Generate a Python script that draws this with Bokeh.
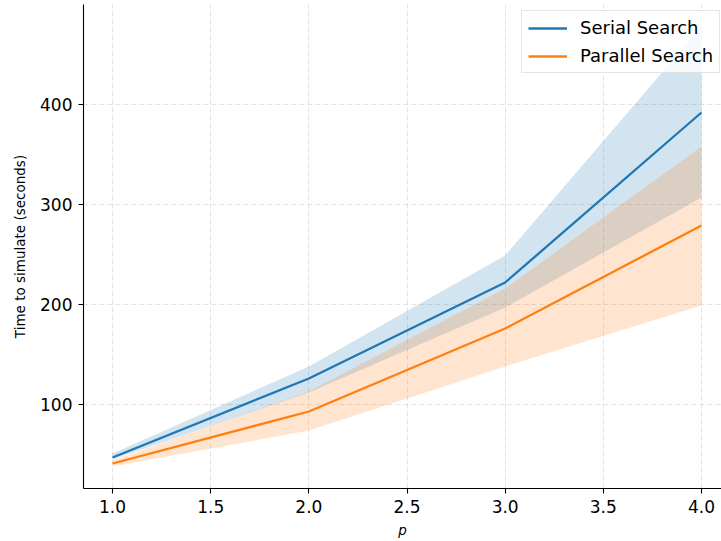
from bokeh.plotting import figure
from bokeh.models import Range1d, Legend, LegendItem, FixedTicker, NumeralTickFormatter
from bokeh.embed import file_html
from bokeh.resources import INLINE

p_vals = [1.0, 2.0, 3.0, 4.0]
serial_mean = [47, 126, 222, 392]
serial_lo = [45, 112, 197, 307]
serial_hi = [51, 138, 249, 478]
parallel_mean = [41, 93, 176, 279]
parallel_lo = [38, 74, 138, 199]
parallel_hi = [44, 113, 216, 358]
x_ticks = [1.0, 1.5, 2.0, 2.5, 3.0, 3.5, 4.0]
y_ticks = [100, 200, 300, 400]
series_names = ["Serial Search", "Parallel Search"]

BLUE = "#1f77b4"
ORANGE = "#ff7f0e"
FONT = "DejaVu Sans"

p = figure(width=721, height=541, output_backend="svg", toolbar_location=None,
           x_range=Range1d(0.852, 4.102), y_range=Range1d(16, 500),
           min_border_left=83, min_border_right=0, min_border_top=4, min_border_bottom=53)
p.outline_line_color = None
p.background_fill_color = "white"

b1 = p.varea(x=p_vals, y1=serial_lo, y2=serial_hi, fill_color=BLUE, fill_alpha=0.2)
l1 = p.line(p_vals, serial_mean, line_color=BLUE, line_width=2.3)
b2 = p.varea(x=p_vals, y1=parallel_lo, y2=parallel_hi, fill_color=ORANGE, fill_alpha=0.2)
l2 = p.line(p_vals, parallel_mean, line_color=ORANGE, line_width=2.3)

for ax in (p.xaxis[0], p.yaxis[0]):
    ax.major_label_text_font = FONT
    ax.major_label_text_font_size = "17px"
    ax.major_label_text_color = "#000000"
    ax.axis_label_text_font = FONT
    ax.axis_label_text_font_size = "13.5px"
    ax.axis_label_text_color = "#000000"
    ax.axis_label_text_font_style = "normal"
    ax.axis_line_color = "black"
    ax.axis_line_width = 1.1
    ax.major_tick_line_color = "black"
    ax.major_tick_line_width = 1.1
    ax.major_tick_out = 5
    ax.major_tick_in = 0
    ax.minor_tick_line_color = None
    ax.major_label_standoff = 6

p.xaxis.ticker = FixedTicker(ticks=x_ticks)
p.xaxis.formatter = NumeralTickFormatter(format="0.0")
p.yaxis.ticker = FixedTicker(ticks=y_ticks)
p.xaxis.axis_label = "p"
p.xaxis.axis_label_text_font_style = "italic"
p.xaxis.axis_label_standoff = 6
p.yaxis.axis_label = "Time to simulate (seconds)"
p.yaxis.axis_label_standoff = 9

for g in (p.xgrid[0], p.ygrid[0]):
    g.grid_line_color = "#b0b0b0"
    g.grid_line_alpha = 0.35
    g.grid_line_dash = "5 3"
    g.grid_line_width = 1
p.xgrid.ticker = FixedTicker(ticks=x_ticks)
p.ygrid.ticker = FixedTicker(ticks=y_ticks)

legend = Legend(items=[LegendItem(label=series_names[0], renderers=[l1]),
                       LegendItem(label=series_names[1], renderers=[l2])],
                location=(438, 415))
legend.label_text_font = FONT
legend.label_text_font_size = "18px"
legend.label_text_color = "#000000"
legend.label_height = 20
legend.glyph_width = 39
legend.glyph_height = 20
legend.spacing = 7
legend.padding = 6
legend.margin = 0
legend.label_standoff = 13
legend.border_line_color = "#cccccc"
legend.border_line_width = 1
legend.background_fill_alpha = 0.8
p.add_layout(legend)

open("out.html", "w").write(file_html(p, INLINE))
